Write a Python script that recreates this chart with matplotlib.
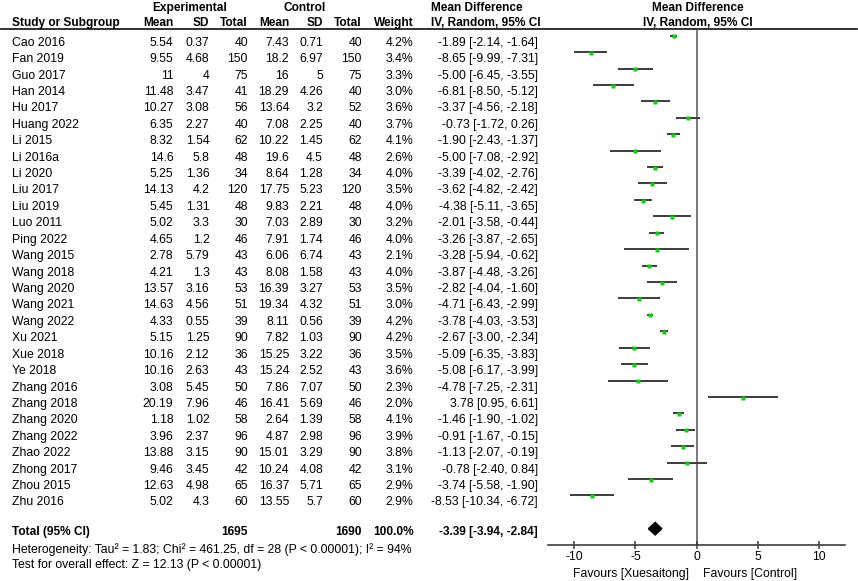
import matplotlib
matplotlib.use("Agg")
import matplotlib.pyplot as plt
from matplotlib.patches import Polygon

plt.rcParams['font.family'] = ['Liberation Sans', 'DejaVu Sans']

studies = ["Cao 2016", "Fan 2019", "Guo 2017", "Han 2014", "Hu 2017", "Huang 2022", "Li 2015",
           "Li 2016a", "Li 2020", "Liu 2017", "Liu 2019", "Luo 2011", "Ping 2022", "Wang 2015",
           "Wang 2018", "Wang 2020", "Wang 2021", "Wang 2022", "Xu 2021", "Xue 2018", "Ye 2018",
           "Zhang 2016", "Zhang 2018", "Zhang 2020", "Zhang 2022", "Zhao 2022", "Zhong 2017",
           "Zhou 2015", "Zhu 2016"]
exp_mean = [5.54, 9.55, 11, 11.48, 10.27, 6.35, 8.32, 14.6, 5.25, 14.13, 5.45, 5.02, 4.65, 2.78,
            4.21, 13.57, 14.63, 4.33, 5.15, 10.16, 10.16, 3.08, 20.19, 1.18, 3.96, 13.88, 9.46,
            12.63, 5.02]
exp_sd = [0.37, 4.68, 4, 3.47, 3.08, 2.27, 1.54, 5.8, 1.36, 4.2, 1.31, 3.3, 1.2, 5.79, 1.3, 3.16,
          4.56, 0.55, 1.25, 2.12, 2.63, 5.45, 7.96, 1.02, 2.37, 3.15, 3.45, 4.98, 4.3]
exp_n = [40, 150, 75, 41, 56, 40, 62, 48, 34, 120, 48, 30, 46, 43, 43, 53, 51, 39, 90, 36, 43, 50,
         46, 58, 96, 90, 42, 65, 60]
ctl_mean = [7.43, 18.2, 16, 18.29, 13.64, 7.08, 10.22, 19.6, 8.64, 17.75, 9.83, 7.03, 7.91, 6.06,
            8.08, 16.39, 19.34, 8.11, 7.82, 15.25, 15.24, 7.86, 16.41, 2.64, 4.87, 15.01, 10.24,
            16.37, 13.55]
ctl_sd = [0.71, 6.97, 5, 4.26, 3.2, 2.25, 1.45, 4.5, 1.28, 5.23, 2.21, 2.89, 1.74, 6.74, 1.58, 3.27,
          4.32, 0.56, 1.03, 3.22, 2.52, 7.07, 5.69, 1.39, 2.98, 3.29, 4.08, 5.71, 5.7]
ctl_n = [40, 150, 75, 40, 52, 40, 62, 48, 34, 120, 48, 30, 46, 43, 43, 53, 51, 39, 90, 36, 43, 50,
         46, 58, 96, 90, 42, 65, 60]
weight = [4.2, 3.4, 3.3, 3.0, 3.6, 3.7, 4.1, 2.6, 4.0, 3.5, 4.0, 3.2, 4.0, 2.1, 4.0, 3.5, 3.0, 4.2,
          4.2, 3.5, 3.6, 2.3, 2.0, 4.1, 3.9, 3.8, 3.1, 2.9, 2.9]
md = [-1.89, -8.65, -5.00, -6.81, -3.37, -0.73, -1.90, -5.00, -3.39, -3.62, -4.38, -2.01, -3.26,
      -3.28, -3.87, -2.82, -4.71, -3.78, -2.67, -5.09, -5.08, -4.78, 3.78, -1.46, -0.91, -1.13,
      -0.78, -3.74, -8.53]
ci_lo = [-2.14, -9.99, -6.45, -8.50, -4.56, -1.72, -2.43, -7.08, -4.02, -4.82, -5.11, -3.58, -3.87,
         -5.94, -4.48, -4.04, -6.43, -4.03, -3.00, -6.35, -6.17, -7.25, 0.95, -1.90, -1.67, -2.07,
         -2.40, -5.58, -10.34]
ci_hi = [-1.64, -7.31, -3.55, -5.12, -2.18, 0.26, -1.37, -2.92, -2.76, -2.42, -3.65, -0.44, -2.65,
         -0.62, -3.26, -1.60, -2.99, -3.53, -2.34, -3.83, -3.99, -2.31, 6.61, -1.02, -0.15, -0.19,
         0.84, -1.90, -6.72]

total_exp = 1695
total_ctl = 1690
pooled_md, pooled_lo, pooled_hi = -3.39, -3.94, -2.84
heterogeneity = "Heterogeneity: Tau\u00b2 = 1.83; Chi\u00b2 = 461.25, df = 28 (P < 0.00001); I\u00b2 = 94%"
overall_test = "Test for overall effect: Z = 12.13 (P < 0.00001)"
xticks = [-10, -5, 0, 5, 10]

W, H = 858, 581
fs = 8.85      # regular text
fsb = 8.6      # bold text
fig = plt.figure(figsize=(W / 100, H / 100), dpi=100)

# text layer in pixel coordinates
tx = fig.add_axes([0, 0, 1, 1])
tx.set_xlim(0, W)
tx.set_ylim(H, 0)
tx.axis('off')

# forest panel
ax_left, ax_right, ax_top, ax_bot = 548.3, 845, 28.5, 545
ax = fig.add_axes([ax_left / W, 1 - ax_bot / H, (ax_right - ax_left) / W, (ax_bot - ax_top) / H])
ax.patch.set_alpha(0)
ax.set_xlim(-12.12, 12.12)
ax.set_ylim(ax_bot, ax_top)

def txt(x, y, s, ha='right', bold=False):
    tx.text(x, y, s, ha=ha, va='baseline', fontsize=fsb if bold else fs,
            fontweight='bold' if bold else 'normal')

# headers
txt(190, 11, "Experimental", ha='center', bold=True)
txt(305, 11, "Control", ha='center', bold=True)
txt(431, 11, "Mean Difference", ha='left', bold=True)
txt(698, 11, "Mean Difference", ha='center', bold=True)
hy = 26.3
txt(12, hy, "Study or Subgroup", ha='left', bold=True)
cols = [173.5, 209.5, 248, 289, 323, 362, 413.5]
for x, h in zip(cols, ["Mean", "SD", "Total", "Mean", "SD", "Total", "Weight"]):
    txt(x, hy, h, bold=True)
txt(431, hy, "IV, Random, 95% CI", ha='left', bold=True)
txt(698, hy, "IV, Random, 95% CI", ha='center', bold=True)
tx.plot([1, 857], [28.8, 28.8], color='#222222', lw=1.3)

# study rows
step = 16.42
for i, name in enumerate(studies):
    yb = 45.7 + i * step
    txt(12, yb, name, ha='left')
    vals = [f"{exp_mean[i]:g}", f"{exp_sd[i]:g}", f"{exp_n[i]}", f"{ctl_mean[i]:g}",
            f"{ctl_sd[i]:g}", f"{ctl_n[i]}", f"{weight[i]:.1f}%"]
    for x, v in zip(cols, vals):
        txt(x, yb, v)
    txt(538, yb, f"{md[i]:.2f} [{ci_lo[i]:.2f}, {ci_hi[i]:.2f}]")
    yl = yb - 10
    ax.plot([ci_lo[i], ci_hi[i]], [yl, yl], color='#3c3c3c', lw=1.4, solid_capstyle='butt', zorder=2)
    ax.plot(md[i], yl + 0.6, marker='s', ms=2.6, color='#11cc11', mec='none', zorder=3)

# total row
yt = 535
txt(12, yt, "Total (95% CI)", ha='left', bold=True)
txt(cols[2], yt, f"{total_exp}", bold=True)
txt(cols[5], yt, f"{total_ctl}", bold=True)
txt(cols[6], yt, "100.0%", bold=True)
txt(538, yt, f"{pooled_md:.2f} [{pooled_lo:.2f}, {pooled_hi:.2f}]", bold=True)
txt(12, 553.3, heterogeneity, ha='left')
txt(12, 568.3, overall_test, ha='left')

yd, hd = 528.7, 6.3
ax.add_patch(Polygon([(pooled_lo, yd), (pooled_md, yd - hd), (pooled_hi, yd), (pooled_md, yd + hd)],
                     closed=True, color='black', zorder=3, clip_on=False))

# axes styling
ax.axvline(0, color='#555555', lw=1.1, zorder=1)
for s in ['top', 'right', 'left']:
    ax.spines[s].set_visible(False)
ax.spines['bottom'].set_color('#3c3c3c')
ax.spines['bottom'].set_linewidth(1.2)
ax.set_yticks([])
ax.set_xticks(xticks)
ax.set_xticklabels([f"{t}" for t in xticks])
ax.tick_params(axis='x', direction='inout', length=5.3, width=1.1, color='#3c3c3c',
               labelsize=fs, pad=1.5)

tx.text(689, 576.7, "Favours [Xuesaitong]", ha='right', va='baseline', fontsize=fs)
tx.text(703, 576.7, "Favours [Control]", ha='left', va='baseline', fontsize=fs)

fig.savefig("out.png", dpi=100)
